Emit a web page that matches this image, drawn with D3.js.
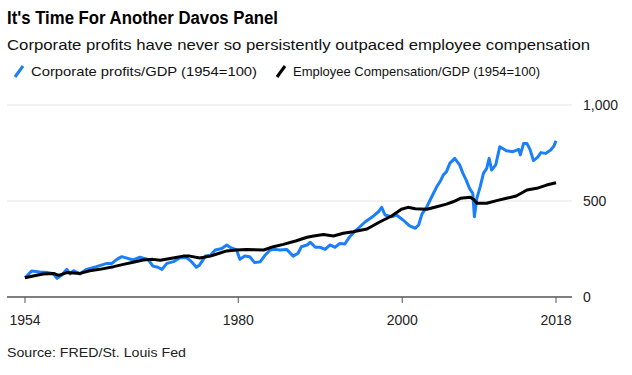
<!DOCTYPE html>
<html>
<head>
<meta charset="utf-8">
<script src="https://cdn.jsdelivr.net/npm/d3@7"></script>
<style>
  body { margin: 0; background: #fff; }
  svg { display: block; font-family: "Liberation Sans", Arial, sans-serif; }
</style>
</head>
<body>
<svg id="chart"></svg>
<script>
// Corporate profits/GDP (1954=100)
const profitYears = [1954.0, 1954.8, 1955.8, 1956.8, 1957.4, 1957.9, 1958.5, 1959.1, 1959.5, 1959.9,
  1960.7, 1961.5, 1962.7, 1964.0, 1964.6, 1965.2, 1965.8, 1967.2, 1968.0, 1969.0,
  1969.6, 1970.2, 1970.7, 1971.3, 1972.1, 1972.9, 1973.7, 1974.3, 1974.9, 1975.3,
  1976.0, 1976.6, 1977.2, 1978.0, 1978.6, 1979.0, 1979.8, 1980.2, 1980.8, 1981.4,
  1982.0, 1982.7, 1983.3, 1983.9, 1984.5, 1985.1, 1985.9, 1986.7, 1987.3, 1987.7,
  1988.4, 1988.8, 1989.4, 1990.0, 1990.6, 1991.2, 1991.8, 1992.4, 1993.0, 1993.6,
  1994.4, 1995.5, 1996.5, 1997.1, 1997.5, 1997.9, 1998.7, 1999.3, 2000.1, 2000.9,
  2001.6, 2002.0, 2002.4, 2003.0, 2003.6, 2004.2, 2004.6, 2005.0, 2005.4, 2005.8,
  2006.4, 2007.0, 2007.4, 2007.8, 2008.2, 2008.6, 2008.8, 2009.1, 2009.5, 2009.9,
  2010.3, 2010.6, 2010.9, 2011.4, 2011.9, 2012.7, 2013.5, 2014.2, 2014.4, 2014.8,
  2015.2, 2015.6, 2016.0, 2016.5, 2016.9, 2017.5, 2018.1, 2018.5, 2018.75]
const profitValues = [100, 135, 130, 127, 123, 97, 115, 144, 120, 137,
  120, 144, 158, 175, 175, 196, 210, 193, 207, 196,
  161, 155, 144, 175, 184, 205, 205, 184, 155, 167,
  213, 217, 245, 253, 271, 259, 245, 196, 213, 210,
  179, 184, 219, 245, 248, 245, 248, 213, 228, 262,
  271, 285, 259, 259, 248, 271, 259, 279, 276, 314,
  349, 392, 422, 444, 467, 427, 418, 427, 401, 370,
  358, 375, 432, 470, 522, 574, 600, 635, 653, 696,
  722, 688, 644, 609, 566, 540, 418, 514, 574, 644,
  670, 722, 661, 688, 783, 762, 757, 769, 740, 800,
  800, 766, 710, 727, 752, 748, 766, 786, 814]

// Employee Compensation/GDP (1954=100)
const compYears = [1954.0, 1955.0, 1956.2, 1957.5, 1958.1, 1959.1, 1960.7, 1961.9, 1963.1, 1964.8,
  1966.0, 1967.2, 1968.4, 1969.6, 1970.5, 1971.7, 1973.3, 1974.1, 1975.3, 1976.6,
  1977.4, 1978.6, 1979.8, 1981.0, 1983.1, 1984.3, 1985.5, 1987.1, 1988.4, 1989.2,
  1990.4, 1991.6, 1992.8, 1994.0, 1995.7, 1997.3, 1998.7, 1999.9, 2000.7, 2001.6,
  2003.0, 2004.2, 2005.4, 2006.2, 2007.1, 2008.3, 2008.7, 2009.1, 2010.3, 2011.5,
  2012.7, 2013.9, 2015.2, 2016.4, 2017.6, 2018.75]
const compValues = [100, 109, 120, 123, 113, 127, 123, 137, 144, 158,
  170, 181, 193, 196, 191, 201, 213, 213, 203, 213,
  224, 240, 245, 248, 245, 262, 274, 293, 311, 318,
  325, 318, 332, 340, 354, 392, 422, 457, 467, 460,
  457, 470, 484, 496, 514, 519, 509, 488, 488, 502,
  514, 526, 557, 566, 583, 595]

const yTicks = [0, 500, 1000]
const xTicks = [1954, 1980, 2000, 2018.75]
const xTickLabels = ['1954', '1980', '2000', '2018']

const width = 632, height = 375
const svg = d3.select('#chart').attr('width', width).attr('height', height)

const x = d3.scaleLinear().domain([1954, 2018.75]).range([25, 556])
const y = d3.scaleLinear().domain([0, 1000]).range([297, 105])

// titles
svg.append('text').attr('x', 7).attr('y', 24)
  .attr('font-size', 18).attr('font-weight', 'bold').attr('fill', '#000')
  .attr('textLength', 271).attr('lengthAdjust', 'spacingAndGlyphs')
  .text("It's Time For Another Davos Panel")
svg.append('text').attr('x', 7).attr('y', 50)
  .attr('font-size', 15).attr('fill', '#111')
  .attr('textLength', 583).attr('lengthAdjust', 'spacingAndGlyphs')
  .text('Corporate profits have never so persistently outpaced employee compensation')

// legend
const legend = [
  { label: 'Corporate profits/GDP (1954=100)', color: '#1a7ff8', ix: 15, tx: 31, tl: 226 },
  { label: 'Employee Compensation/GDP (1954=100)', color: '#000', ix: 277, tx: 293, tl: 247 }
]
legend.forEach(d => {
  svg.append('line').attr('x1', d.ix).attr('y1', 77).attr('x2', d.ix + 8).attr('y2', 66)
    .attr('stroke', d.color).attr('stroke-width', 3)
  svg.append('text').attr('x', d.tx).attr('y', 76)
    .attr('font-size', 13).attr('fill', '#111')
    .attr('textLength', d.tl).attr('lengthAdjust', 'spacingAndGlyphs')
    .text(d.label)
})

// gridlines + y labels
svg.selectAll('.grid').data(yTicks.filter(d => d > 0)).join('line')
  .attr('x1', 7).attr('x2', 572)
  .attr('y1', d => y(d)).attr('y2', d => y(d))
  .attr('stroke', '#e6e6e6').attr('stroke-width', 1)
svg.selectAll('.ylab').data(yTicks).join('text')
  .attr('x', 583).attr('y', d => y(d) + 5)
  .attr('font-size', 14).attr('fill', '#222')
  .text(d => d3.format(',')(d))

// x axis
svg.append('line').attr('x1', 7).attr('x2', 572).attr('y1', y(0)).attr('y2', y(0))
  .attr('stroke', '#555').attr('stroke-width', 1.5)
svg.selectAll('.xtick').data(xTicks).join('line')
  .attr('x1', d => x(d)).attr('x2', d => x(d))
  .attr('y1', y(0)).attr('y2', y(0) + 6)
  .attr('stroke', '#555').attr('stroke-width', 1)
svg.selectAll('.xlab').data(xTicks).join('text')
  .attr('x', d => x(d)).attr('y', 325)
  .attr('text-anchor', 'middle').attr('font-size', 14).attr('fill', '#222')
  .text((d, i) => xTickLabels[i])

// lines
const line = d3.line().x(d => x(d[0])).y(d => y(d[1]))
svg.append('path').datum(d3.zip(profitYears, profitValues))
  .attr('d', line).attr('fill', 'none')
  .attr('stroke', '#1a7ff8').attr('stroke-width', 3).attr('stroke-linejoin', 'round')
svg.append('path').datum(d3.zip(compYears, compValues))
  .attr('d', line).attr('fill', 'none')
  .attr('stroke', '#000').attr('stroke-width', 3).attr('stroke-linejoin', 'round')

// source
svg.append('text').attr('x', 7).attr('y', 357)
  .attr('font-size', 13).attr('fill', '#222')
  .attr('textLength', 179).attr('lengthAdjust', 'spacingAndGlyphs')
  .text('Source: FRED/St. Louis Fed')
</script>
</body>
</html>
